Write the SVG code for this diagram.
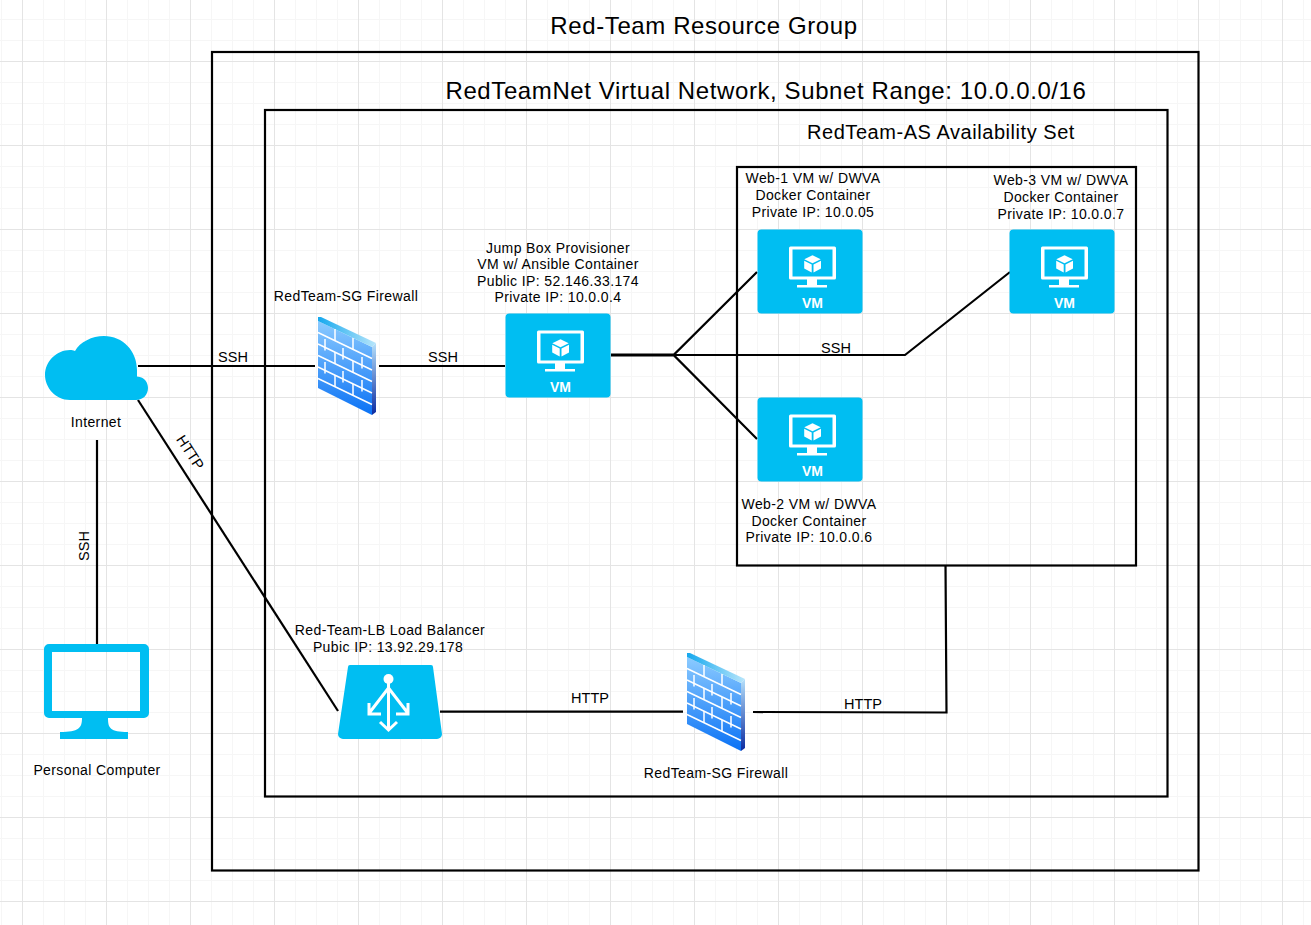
<svg xmlns="http://www.w3.org/2000/svg" width="1311" height="925" viewBox="0 0 1311 925">
<style>
text{font-family:"Liberation Sans",Arial,sans-serif;fill:#000;text-anchor:middle}
.l{font-size:14px;letter-spacing:.39px}
.t{font-size:24px;letter-spacing:.6px}
.s{font-size:14.500px}
.box{fill:none;stroke:#000;stroke-width:2.200}
.c{fill:none;stroke:#000;stroke-width:2.200}
.mn{stroke:#f6f6f6;stroke-width:1;fill:none}
.mj{stroke:#e4e4e4;stroke-width:1;fill:none}
.az{fill:#00bef2}
.w{fill:#fff}
.vmt{font-size:14px;font-weight:bold;fill:#fff}
</style>
<defs>
<linearGradient id="wall" x1="0" y1="0" x2="0" y2="1"><stop offset="0" stop-color="#8ccbff"/><stop offset="1" stop-color="#0a72f5"/></linearGradient>
<linearGradient id="side" x1="0" y1="0" x2="0" y2="1"><stop offset="0" stop-color="#b5e0fb"/><stop offset="1" stop-color="#0b2aa0"/></linearGradient>
<linearGradient id="top" x1="0" y1="0" x2="1" y2="0"><stop offset="0" stop-color="#15a8ee"/><stop offset="1" stop-color="#b8e6fb"/></linearGradient>
<g id="fw">
<polygon points="0,4 54,30 54,98 0,71" fill="url(#wall)"/>
<polygon points="0,0 3,0 58,26 54,30 0,4" fill="url(#top)"/>
<polygon points="54,30 58,26 58,95 54,98" fill="url(#side)"/>
<g stroke="#fff" stroke-width="1.500" fill="none">
<path d="M0,15.500L54,41.500M0,27L54,53M0,38.500L54,64.500M0,50L54,76M0,61.500L54,87.500"/>
<path d="M17,12L17,23.500M35,21L35,32.500M7,22L7,33.500M25,31L25,42.500M44,40L44,51.500M17,35L17,46.500M35,44L35,55.500M7,45L7,56.500M25,54L25,65.500M44,63L44,74.500M17,58L17,69.500M35,67L35,78.500"/>
</g>
</g>
<g id="vm">
<rect width="105" height="84" rx="4" class="az"/>
<path class="w" fill-rule="evenodd" d="M33,17H77a1.500,1.500 0 0 1 1.500,1.500V48.500a1.500,1.500 0 0 1-1.500,1.500H59.500V55.500H69.500V58H39.500V55.500H49.500V50H33a1.500,1.500 0 0 1-1.500-1.500V18.500A1.500,1.500 0 0 1 33,17ZM35,20V47H75V20Z"/>
<path class="w" d="M55,25.700L63.200,29.700L55,33.700L46.800,29.700ZM46.700,31.200L54.200,35V43L46.700,39ZM63.500,31.200V39L56,43V35Z"/>
<text x="55" y="78" class="vmt">VM</text>
</g>
</defs>
<rect width="1311" height="925" fill="#fff"/>
<g id="grid">
<path class="mn" d="M1.500,0V925M43.500,0V925M64.500,0V925M85.500,0V925M127.500,0V925M148.500,0V925M169.500,0V925M211.500,0V925M232.500,0V925M253.500,0V925M295.500,0V925M316.500,0V925M337.500,0V925M379.500,0V925M400.500,0V925M421.500,0V925M463.500,0V925M484.500,0V925M505.500,0V925M547.500,0V925M568.500,0V925M589.500,0V925M631.500,0V925M652.500,0V925M673.500,0V925M715.500,0V925M736.500,0V925M757.500,0V925M799.500,0V925M820.500,0V925M841.500,0V925M883.500,0V925M904.500,0V925M925.500,0V925M967.500,0V925M988.500,0V925M1009.500,0V925M1051.500,0V925M1072.500,0V925M1093.500,0V925M1135.500,0V925M1156.500,0V925M1177.500,0V925M1219.500,0V925M1240.500,0V925M1261.500,0V925M1303.500,0V925"/>
<path class="mn" d="M0,19.500H1311M0,40.500H1311M0,82.500H1311M0,103.500H1311M0,124.500H1311M0,166.500H1311M0,187.500H1311M0,208.500H1311M0,250.500H1311M0,271.500H1311M0,292.500H1311M0,334.500H1311M0,355.500H1311M0,376.500H1311M0,418.500H1311M0,439.500H1311M0,460.500H1311M0,502.500H1311M0,523.500H1311M0,544.500H1311M0,586.500H1311M0,607.500H1311M0,628.500H1311M0,670.500H1311M0,691.500H1311M0,712.500H1311M0,754.500H1311M0,775.500H1311M0,796.500H1311M0,838.500H1311M0,859.500H1311M0,880.500H1311"/>
<path class="mj" d="M22.500,0V925M106.500,0V925M190.500,0V925M274.500,0V925M358.500,0V925M442.500,0V925M526.500,0V925M610.500,0V925M694.500,0V925M778.500,0V925M862.500,0V925M946.500,0V925M1030.500,0V925M1114.500,0V925M1198.500,0V925M1282.500,0V925"/>
<path class="mj" d="M0,61.500H1311M0,145.500H1311M0,229.500H1311M0,313.500H1311M0,397.500H1311M0,481.500H1311M0,565.500H1311M0,649.500H1311M0,733.500H1311M0,817.500H1311M0,901.500H1311"/>
</g>
<g id="resource-group"><rect class="box" x="212" y="52" width="986.500" height="818.500"/><text x="704" y="34" class="t">Red-Team Resource Group</text></g>
<g id="vnet"><rect class="box" x="265" y="110" width="902.500" height="686.500"/><text x="766" y="99" class="t">RedTeamNet Virtual Network, Subnet Range: 10.0.0.0/16</text></g>
<g id="as"><rect class="box" x="737" y="167" width="399" height="398.500"/><text x="941" y="139" font-size="20" letter-spacing=".55">RedTeam-AS Availability Set</text></g>
<g id="connectors">
<path class="c" d="M138,366H315"/>
<path class="c" d="M379,366H505"/>
<path class="c" d="M611,354.600H674L757,272"/>
<path class="c" d="M611,355.400H674L757,439"/>
<path class="c" d="M611,355H905L1010,272"/>
<path class="c" d="M97,440V644"/>
<path class="c" d="M138,400L338,711"/>
<path class="c" d="M440,711.600H683"/>
<path class="c" d="M753,712L946.500,712.500L945.500,566"/>
<text x="233" y="362" class="s">SSH</text>
<text x="443" y="362" class="s">SSH</text>
<text x="836" y="353" class="s">SSH</text>
<text x="590" y="703" class="s">HTTP</text>
<text x="863" y="709" class="s">HTTP</text>
<text transform="translate(186,455) rotate(57)" class="s">HTTP</text>
<text transform="translate(89,546) rotate(-90)" class="s">SSH</text>
</g>
<g id="internet">
<path class="az" d="M70,400C55,400 45,387 45,375C45,361 57,350 70,350C72,350 73,350 75,351C80,342 92,336 104,336C123,336 137,351 137,370V376.500C145,377 148,383 148,388C148,395 143,400 136,400Z"/>
<text x="96" y="427" class="l">Internet</text>
</g>
<g id="pc">
<path class="az" fill-rule="evenodd" d="M49,644H144a5,5 0 0 1 5,5V713a5,5 0 0 1-5,5H108C108,728 110,732 128,732V739H60V732C79,732 82,728 82,718H49a5,5 0 0 1-5-5V649a5,5 0 0 1 5-5ZM52,652V711H140V652Z"/>
<text x="97" y="775" class="l">Personal Computer</text>
</g>
<g id="fw1"><use href="#fw" x="318" y="317"/><text x="346" y="301" class="l">RedTeam-SG Firewall</text></g>
<g id="fw2"><use href="#fw" x="687" y="653"/><text x="716" y="778" class="l">RedTeam-SG Firewall</text></g>
<g id="jump"><use href="#vm" x="505.500" y="313.500"/>
<text x="558" y="253" class="l">Jump Box Provisioner</text><text x="558" y="269" class="l">VM w/ Ansible Container</text><text x="558" y="286" class="l">Public IP: 52.146.33.174</text><text x="558" y="302" class="l">Private IP: 10.0.0.4</text></g>
<g id="web1"><use href="#vm" x="757.500" y="229.500"/>
<text x="813" y="183" class="l">Web-1 VM w/ DWVA</text><text x="813" y="200" class="l">Docker Container</text><text x="813" y="217" class="l">Private IP: 10.0.05</text></g>
<g id="web3"><use href="#vm" x="1009.500" y="229.500"/>
<text x="1061" y="185" class="l">Web-3 VM w/ DWVA</text><text x="1061" y="202" class="l">Docker Container</text><text x="1061" y="219" class="l">Private IP: 10.0.0.7</text></g>
<g id="web2"><use href="#vm" x="757.500" y="397.500"/>
<text x="809" y="509" class="l">Web-2 VM w/ DWVA</text><text x="809" y="526" class="l">Docker Container</text><text x="809" y="542" class="l">Private IP: 10.0.0.6</text></g>
<g id="lb">
<path class="az" d="M350,665H431a2,2 0 0 1 2,2L442,734a5,5 0 0 1-5,5H343a5,5 0 0 1-5-5L348,667a2,2 0 0 1 2-2Z"/>
<circle class="w" cx="388.500" cy="679" r="5"/>
<g stroke="#fff" stroke-width="3" fill="none"><path d="M388.500,682V730M388.500,688L370,712M388.500,688L407,712M380,722L388.500,730L397,722M369,703V714H381M408,703V714H396"/></g>
<text x="390" y="635" class="l">Red-Team-LB Load Balancer</text><text x="388" y="652" class="l">Pubic IP: 13.92.29.178</text>
</g>
</svg>
